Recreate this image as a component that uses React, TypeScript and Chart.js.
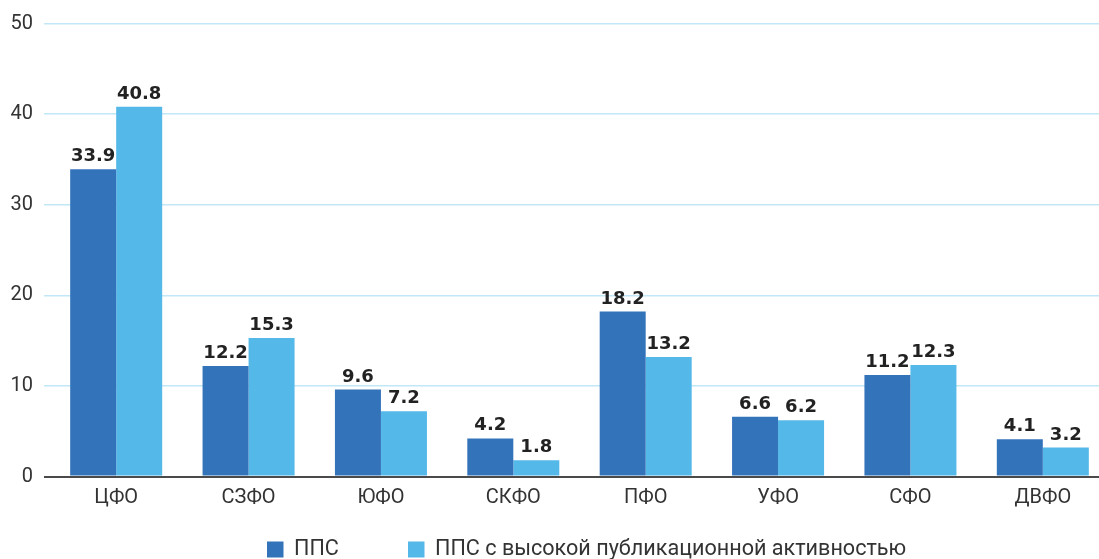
import React, { useEffect, useRef } from "react";
import { Chart, registerables } from "chart.js";

Chart.register(...registerables);

const categories = ["ЦФО", "СЗФО", "ЮФО", "СКФО", "ПФО", "УФО", "СФО", "ДВФО"];
const seriesPPS = [33.9, 12.2, 9.6, 4.2, 18.2, 6.6, 11.2, 4.1];
const seriesHigh = [40.8, 15.3, 7.2, 1.8, 13.2, 6.2, 12.3, 3.2];
const seriesNames = ["ППС", "ППС с высокой публикационной активностью"];
const yTicks = [0, 10, 20, 30, 40, 50];

const DARK = "#3373ba";
const LIGHT = "#54b8e9";
const GRID = "#c2e7f6";
const ZERO = "#4a4a4a";

const valueLabels = {
  id: "valueLabels",
  afterDatasetsDraw(chart: any) {
    const ctx = chart.ctx;
    ctx.save();
    ctx.font = "bold 18px 'DejaVu Sans'";
    ctx.fillStyle = "#222222";
    ctx.textAlign = "center";
    ctx.textBaseline = "alphabetic";
    chart.data.datasets.forEach((ds: any, di: number) => {
      const meta = chart.getDatasetMeta(di);
      meta.data.forEach((el: any, i: number) => {
        ctx.fillText(String(ds.data[i].toFixed(1)), el.x, el.y - 8);
      });
    });
    ctx.restore();
  },
};

const customLegend = {
  id: "customLegend",
  afterDraw(chart: any) {
    const ctx = chart.ctx;
    const starts = [267, 408];
    ctx.save();
    ctx.font = "21.6px Roboto";
    ctx.textBaseline = "middle";
    ctx.textAlign = "left";
    chart.data.datasets.forEach((ds: any, di: number) => {
      const x = starts[di];
      ctx.fillStyle = ds.backgroundColor;
      ctx.fillRect(x, 541.5, 16.5, 16);
      ctx.fillStyle = "#333333";
      ctx.fillText(ds.label, x + 27, 550);
    });
    ctx.restore();
  },
};

export default function App() {
  const ref = useRef<HTMLCanvasElement | null>(null);

  useEffect(() => {
    if (!ref.current) return;
    const chart = new Chart(ref.current, {
      type: "bar",
      data: {
        labels: categories,
        datasets: [
          {
            label: seriesNames[0],
            data: seriesPPS,
            backgroundColor: DARK,
            categoryPercentage: 0.695,
            barPercentage: 1,
          },
          {
            label: seriesNames[1],
            data: seriesHigh,
            backgroundColor: LIGHT,
            categoryPercentage: 0.695,
            barPercentage: 1,
          },
        ],
      },
      options: {
        responsive: false,
        animation: false,
        devicePixelRatio: 1,
        layout: { padding: { top: 23.5, right: 1, left: 0, bottom: 0 } },
        plugins: {
          legend: { display: false },
          tooltip: { enabled: false },
        },
        scales: {
          x: {
            grid: { display: false, drawTicks: false },
            border: { display: false },
            ticks: {
              font: { family: "Roboto", size: 20 },
              color: "#333333",
              padding: 9.5,
            },
            afterFit(scale: any) {
              scale.height = 82.5;
            },
          },
          y: {
            min: 0,
            max: 50,
            afterBuildTicks(scale: any) {
              scale.ticks = yTicks.map((v) => ({ value: v }));
            },
            grid: {
              color: (c: any) => (c.tick && c.tick.value === 0 ? ZERO : GRID),
              lineWidth: (c: any) => (c.tick && c.tick.value === 0 ? 2 : 1.5),
              drawTicks: true,
              tickLength: 6,
            },
            border: { display: false },
            ticks: {
              font: { family: "Roboto", size: 20 },
              color: "#333333",
              padding: 11,
            },
            afterFit(scale: any) {
              scale.width = 50;
            },
          },
        },
      },
      plugins: [valueLabels, customLegend],
    });
    return () => chart.destroy();
  }, []);

  return (
    <div
      style={{
        position: "fixed",
        left: 0,
        top: 0,
        width: 1099,
        height: 559,
        overflow: "hidden",
        background: "#ffffff",
      }}
    >
      <canvas ref={ref} width={1110} height={559} style={{ display: "block" }} />
    </div>
  );
}
